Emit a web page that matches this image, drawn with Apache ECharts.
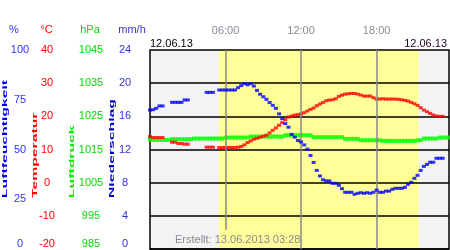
<!DOCTYPE html>
<html><head><meta charset="utf-8">
<script src="https://cdn.jsdelivr.net/npm/echarts@6/dist/echarts.min.js"></script>
<style>html,body{margin:0;padding:0;background:#fff}#c{width:450px;height:250px}</style>
</head><body><div id="c"></div>
<script>
// 15-minute samples from 00:00 (index i -> i*15 min)
const humidity = [69.8,70,70.7,71.9,71.9,null,null,73.7,73.7,73.7,73.7,74.9,74.9,null,null,null,null,null,78.7,78.7,78.7,null,79.9,79.9,79.9,79.9,79.9,79.9,81.1,82.1,83.1,82.5,83.1,81.9,79.7,77.8,76.5,75.2,73.6,72.2,70.7,67.9,65.5,63,61.2,57.6,56.2,54.5,53.8,52.3,50.2,47,43.5,39.5,36.7,34.8,34.2,34.2,33,33,32,30.3,28.5,28.5,28.5,27.5,28,28.3,28,28.3,28,28.5,29.6,28.5,28.5,29.1,29.1,30,30.5,30.5,30.5,31,32.5,33.5,35.5,37,39.5,41.5,42.5,43.6,43.6,45.6,45.6,45.6,null,null];
const temperature = [13.9,13.6,13.6,13.6,13.6,null,null,12.2,12.2,11.8,11.8,11.6,11.6,null,null,null,null,null,10.7,10.7,10.7,null,10.6,10.6,10.6,10.6,10.6,10.6,10.7,10.9,11.4,12.1,12.6,13.1,13.4,13.7,14.0,14.3,15.0,15.8,16.5,17.3,18.1,19.0,19.8,20.1,20.4,20.5,20.7,21.1,21.6,22.1,22.5,23.2,23.7,24.2,24.7,24.9,25.0,25.3,26.0,26.4,26.7,26.8,26.9,26.9,26.7,26.4,26.1,26.1,26.1,25.6,25.2,25.2,25.3,25.2,25.2,25.2,25.2,25.1,25.0,24.8,24.6,24.2,23.8,23.3,22.6,21.9,21.4,20.9,20.4,20.1,20.0,20.0,null,null];
const pressure = [1017.9,1017.9,1017.9,1017.9,1017.9,1017.9,1017.9,1018.1,1018.1,1018.1,1018.1,1018.1,1018.1,1018.1,1018.3,1018.3,1018.3,1018.3,1018.3,1018.3,1018.3,1018.3,1018.3,1018.3,1018.6,1018.6,1018.6,1018.6,1018.6,1018.6,1018.6,1018.6,1018.9,1018.9,1018.9,1018.9,1018.9,1018.9,1018.9,1018.9,1018.9,1018.9,1018.9,1019.3,1019.3,1019.3,1019.3,1019.3,1019.3,1019.3,1019.3,1019.3,1018.7,1018.7,1018.7,1018.7,1018.7,1018.7,1018.7,1018.7,1018.7,1018.7,1018.2,1018.2,1018.2,1018.2,1018.2,1017.8,1017.8,1017.8,1017.8,1017.8,1017.8,1017.8,1017.6,1017.6,1017.6,1017.6,1017.6,1017.6,1017.6,1017.6,1017.6,1017.6,1017.6,1017.8,1017.8,1018.3,1018.3,1018.3,1018.3,1018.3,1018.6,1018.6,1018.6,1018.6];
const timeTicks = {6:'06:00',12:'12:00',18:'18:00'};
const daylight = [5.48, 21.35];
const dateLabel = '12.06.13';
const createdLabel = 'Erstellt: 13.06.2013 03:28';

const FONT = 'Liberation Sans';
function pairs(arr){ const out=[]; arr.forEach((v,i)=>{ if(v!==null) out.push([i/4, v]); }); return out; }
function valAxis(min,max,interval,offset,color){
  return {type:'value',min,max,interval,position:'left',offset,
    axisLine:{show:false},axisTick:{show:false},splitLine:{show:false},
    axisLabel:{color,fontSize:11,fontFamily:FONT,align:'center',margin:0,
      formatter:v=>String(v),
      showMinLabel:true,showMaxLabel:true,verticalAlignMinLabel:'bottom'}};
}
const tempAxis = valAxis(-20,40,10,103,'#ff0000');
tempAxis.z = 2;
tempAxis.splitLine = {show:true,lineStyle:{color:'#000',width:1.5}};

function txt(text,x,y,color,align,extra){
  return Object.assign({type:'text',x,y,z:10,style:{text,fill:color,font:'11px "'+FONT+'"',
    align:align,verticalAlign:'middle',textAlign:align,textVerticalAlign:'middle'}},extra||{});
}
function vtxt(text,x,color){
  return {type:'text',x,y:198,rotation:Math.PI/2,scaleX:2.1,scaleY:1,z:10,
    style:{text,fill:color,font:'bold 7.5px "'+FONT+'"',align:'left',verticalAlign:'middle',textAlign:'left',textVerticalAlign:'middle'}};
}

const chart = echarts.init(document.getElementById('c'),null,{renderer:'canvas'});
chart.setOption({
  animation:false,
  grid:{left:150,right:1,top:50,bottom:1,show:false},
  xAxis:{type:'value',min:0,max:23.75,interval:6,position:'top',z:2,
    axisLine:{show:true,lineStyle:{color:'#000',width:1.5}},axisTick:{show:false},splitLine:{show:false},
    axisLabel:{color:'#8a8a96',fontSize:11,fontFamily:FONT,margin:14,showMaxLabel:false,
      formatter:v=>timeTicks[v]||''}},
  yAxis:[
    valAxis(0,100,25,130,'#3333ff'),
    tempAxis,
    valAxis(985,1045,10,59,'#00dd00'),
    valAxis(0,24,4,25,'#3333cc'),
    {type:'value',min:-20,max:40,position:'left',offset:0,z:2,axisLine:{show:true,lineStyle:{color:'#000',width:1.5}},axisTick:{show:false},axisLabel:{show:false},splitLine:{show:false}},
    {type:'value',min:-20,max:40,position:'right',offset:0,z:2,axisLine:{show:true,lineStyle:{color:'#000',width:1.5}},axisTick:{show:false},axisLabel:{show:false},splitLine:{show:false}}
  ],
  series:[
    {type:'line',xAxisIndex:0,yAxisIndex:1,data:[],z:1,silent:true,
      markArea:{silent:true,data:[
        [{xAxis:0,itemStyle:{color:'#f3f3f3'}},{xAxis:daylight[0]}],
        [{xAxis:daylight[0],itemStyle:{color:'#ffff99'}},{xAxis:daylight[1]}],
        [{xAxis:daylight[1],itemStyle:{color:'#f3f3f3'}},{xAxis:23.75}]
      ]},
      markLine:{silent:true,symbol:'none',label:{show:false},lineStyle:{color:'#888',width:1.5,type:'solid'},
        data:[[{coord:[6,-14.3]},{coord:[6,40]}],{xAxis:12},{xAxis:18}]}},
    {name:'Luftdruck',type:'scatter',xAxisIndex:0,yAxisIndex:2,z:3,symbol:'rect',symbolSize:[4,4],
      itemStyle:{color:'#00ff00'},data:pairs(pressure)},
    {name:'Temperatur',type:'scatter',xAxisIndex:0,yAxisIndex:1,z:4,symbol:'rect',symbolSize:[4,3],
      itemStyle:{color:'#ff0000'},data:pairs(temperature)},
    {name:'Luftfeuchtigkeit',type:'scatter',xAxisIndex:0,yAxisIndex:0,z:5,symbol:'rect',symbolSize:[4,3],
      itemStyle:{color:'#0000ff'},data:pairs(humidity)}
  ],
  graphic:[
    txt('%',14,30,'#3333ff','center'),
    txt('°C',46.5,30,'#ff0000','center'),
    txt('hPa',90,30,'#00dd00','center'),
    txt('mm/h',132,30,'#3333cc','center'),
    txt(dateLabel,150,43.5,'#000','left'),
    txt(dateLabel,447,43.5,'#220022','right'),
    txt(createdLabel,175,240,'#8a8a96','left'),
    vtxt('Luftfeuchtigkeit',5,'#0000ee'),
    vtxt('Temperatur',35,'#ff0000'),
    vtxt('Luftdruck',71.5,'#00ee00'),
    vtxt('Niederschlag',111.5,'#0000cc')
  ]
});
</script></body></html>
